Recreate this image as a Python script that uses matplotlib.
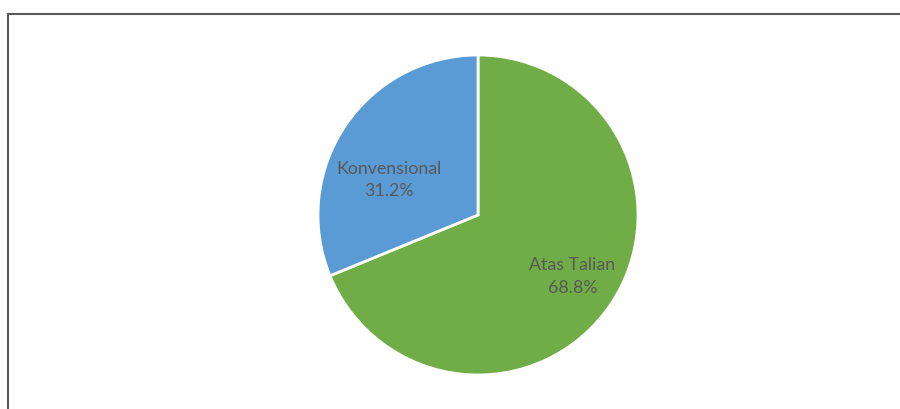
import matplotlib.pyplot as plt
from matplotlib.patches import Rectangle

labels = ["Atas Talian", "Konvensional"]
shares = [68.8, 31.2]
colors = ["#70AD47", "#5B9BD5"]

# where the data labels sit, in pie radius units
label_xy = [(0.59, -0.385), (-0.555, 0.22)]

plt.rcParams["font.family"] = ["Lato", "DejaVu Sans"]

fig = plt.figure(figsize=(9, 4.09), dpi=100)
fig.patch.set_facecolor("white")

# chart frame (runs off the right and bottom edge in the original)
fig.add_artist(Rectangle((7.5 / 900, -0.2), 1.2, 1.2 - 13.5 / 409,
                         transform=fig.transFigure, fill=False,
                         edgecolor="#595959", linewidth=1.5))

ax = fig.add_axes([318 / 900, 34 / 409, 320 / 900, 320 / 409])
wedges, _ = ax.pie(
    shares,
    colors=colors,
    startangle=90,
    counterclock=False,
    wedgeprops=dict(edgecolor="white", linewidth=2),
)
for lab, val, (x, y) in zip(labels, shares, label_xy):
    ax.text(x, y, f"{lab}\n{val:.1f}%", color="#595959", fontsize=12.8,
            ha="center", va="center", linespacing=1.5)

ax.set_xlim(-1, 1)
ax.set_ylim(-1, 1)
ax.set_aspect("equal")

fig.savefig("out.png", dpi=100)
